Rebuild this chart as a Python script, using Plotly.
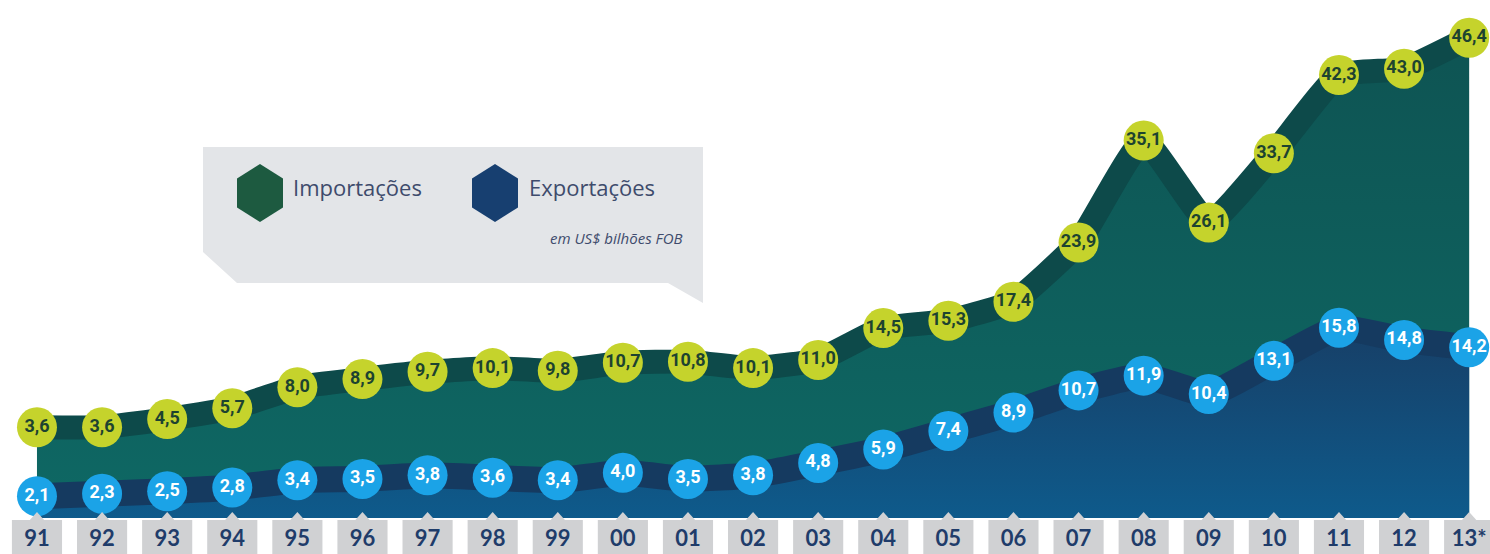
import plotly.graph_objects as go

years = ["91", "92", "93", "94", "95", "96", "97", "98", "99", "00", "01", "02",
         "03", "04", "05", "06", "07", "08", "09", "10", "11", "12", "13*"]
imports = [3.6, 3.6, 4.5, 5.7, 8.0, 8.9, 9.7, 10.1, 9.8, 10.7, 10.8, 10.1,
           11.0, 14.5, 15.3, 17.4, 23.9, 35.1, 26.1, 33.7, 42.3, 43.0, 46.4]
exports = [2.1, 2.3, 2.5, 2.8, 3.4, 3.5, 3.8, 3.6, 3.4, 4.0, 3.5, 3.8,
           4.8, 5.9, 7.4, 8.9, 10.7, 11.9, 10.4, 13.1, 15.8, 14.8, 14.2]

W, H = 1490, 554
MB = 36
PH = H - MB  # plot height in px

x = list(range(len(years)))
X_RANGE = [-0.568, 22.32]
IMP_RANGE = [-6.37, 50.55]
EXP_RANGE = [0.325, 42.44]


def fmt(v):
    return f"{v:.1f}".replace(".", ",")


def pp(px, py):
    return px / W, (PH - py) / PH


fig = go.Figure()

# baseline for import area
fig.add_trace(go.Scatter(x=x, y=[IMP_RANGE[0]] * len(x), mode="lines",
                         line=dict(width=0), hoverinfo="skip", showlegend=False))
# imports area
fig.add_trace(go.Scatter(
    x=x, y=imports, mode="lines", fill="tonexty",
    line=dict(color="#0d4a4a", width=24, shape="spline", smoothing=0.4),
    fillgradient=dict(type="vertical",
                      colorscale=[[0, "#0e6864"], [1, "#0e5453"]]),
    hoverinfo="skip", showlegend=False))
# imports circles
fig.add_trace(go.Scatter(
    x=x, y=imports, mode="markers+text",
    text=[fmt(v) for v in imports], textposition="middle center",
    marker=dict(size=40, color="#c5d32c"),
    textfont=dict(family="Liberation Sans Narrow, Roboto, sans-serif", size=18,
                  color="#1d4330", weight="bold"),
    cliponaxis=False, showlegend=False))

# exports area
fig.add_trace(go.Scatter(
    x=x, y=exports, yaxis="y2", mode="lines", fill="tozeroy",
    line=dict(color="#153a60", width=26, shape="spline", smoothing=0.4),
    fillgradient=dict(type="vertical",
                      colorscale=[[0, "#0e5b8c"], [1, "#173f67"]]),
    hoverinfo="skip", showlegend=False))
# exports circles
fig.add_trace(go.Scatter(
    x=x, y=exports, yaxis="y2", mode="markers+text",
    text=[fmt(v) for v in exports], textposition="middle center",
    marker=dict(size=40, color="#1ba3e7"),
    textfont=dict(family="Liberation Sans Narrow, Roboto, sans-serif", size=18,
                  color="white", weight="bold"),
    cliponaxis=False, showlegend=False))

shapes = []
# year tag boxes (below) and notches (above)
yb_top = (PH - 520) / PH
yb_bot = (PH - 556) / PH
yn_tip = (PH - 512) / PH
for i in x:
    shapes.append(dict(type="rect", xref="x", yref="paper",
                       x0=i - 0.385, x1=i + 0.385, y0=yb_bot, y1=yb_top,
                       fillcolor="#d0d1d3", line=dict(width=0), layer="below"))
    shapes.append(dict(type="path", xref="x", yref="paper",
                       path=f"M {i-0.11},{yb_top} L {i},{yn_tip} L {i+0.11},{yb_top} Z",
                       fillcolor="#d0d1d3", line=dict(width=0), layer="above"))

# legend bubble
pts = [(203, 147), (703, 147), (703, 303), (668, 283), (237, 283), (203, 252)]
path = "M " + " L ".join(f"{pp(a, b)[0]},{pp(a, b)[1]}" for a, b in pts) + " Z"
shapes.append(dict(type="path", xref="paper", yref="paper", path=path,
                   fillcolor="#e3e5e8", line=dict(width=0), layer="above"))


def hexagon(cx, cy, w, h, color):
    hw, hh = w / 2, h / 2
    p = [(cx, cy - hh), (cx + hw, cy - hh / 2), (cx + hw, cy + hh / 2),
         (cx, cy + hh), (cx - hw, cy + hh / 2), (cx - hw, cy - hh / 2)]
    s = "M " + " L ".join(f"{pp(a, b)[0]},{pp(a, b)[1]}" for a, b in p) + " Z"
    return dict(type="path", xref="paper", yref="paper", path=s,
                fillcolor=color, line=dict(width=0), layer="above")


shapes.append(hexagon(260, 193, 46, 58, "#1d5a40"))
shapes.append(hexagon(495, 193, 46, 58, "#173f70"))

annotations = [
    dict(x=pp(291, 0)[0], y=pp(0, 187)[1], xref="paper", yref="paper",
         text="Importações", showarrow=False, xanchor="left", yanchor="middle",
         font=dict(family="Open Sans, sans-serif", size=22, color="#3e4b6c")),
    dict(x=pp(527, 0)[0], y=pp(0, 187)[1], xref="paper", yref="paper",
         text="Exportações", showarrow=False, xanchor="left", yanchor="middle",
         font=dict(family="Open Sans, sans-serif", size=22, color="#3e4b6c")),
    dict(x=pp(684, 0)[0], y=pp(0, 238)[1], xref="paper", yref="paper",
         text="<i>em US$ bilhões FOB</i>", showarrow=False, xanchor="right",
         yanchor="middle",
         font=dict(family="Open Sans, sans-serif", size=15, color="#3e4b6c")),
]

fig.update_layout(
    width=W, height=H, autosize=False,
    margin=dict(l=0, r=0, t=0, b=MB, pad=0),
    paper_bgcolor="white", plot_bgcolor="white",
    showlegend=False,
    xaxis=dict(range=X_RANGE, tickmode="array", tickvals=x, ticktext=years,
               showgrid=False, zeroline=False, showline=False, ticks="",
               ticklabelstandoff=5,
               tickfont=dict(family="Lato, Roboto, sans-serif", size=22,
                             color="#1f3c6a", weight="bold")),
    yaxis=dict(range=IMP_RANGE, visible=False, showgrid=False, zeroline=False),
    yaxis2=dict(range=EXP_RANGE, overlaying="y", visible=False,
                showgrid=False, zeroline=False),
    shapes=shapes, annotations=annotations,
)

fig.write_html("out.html")
